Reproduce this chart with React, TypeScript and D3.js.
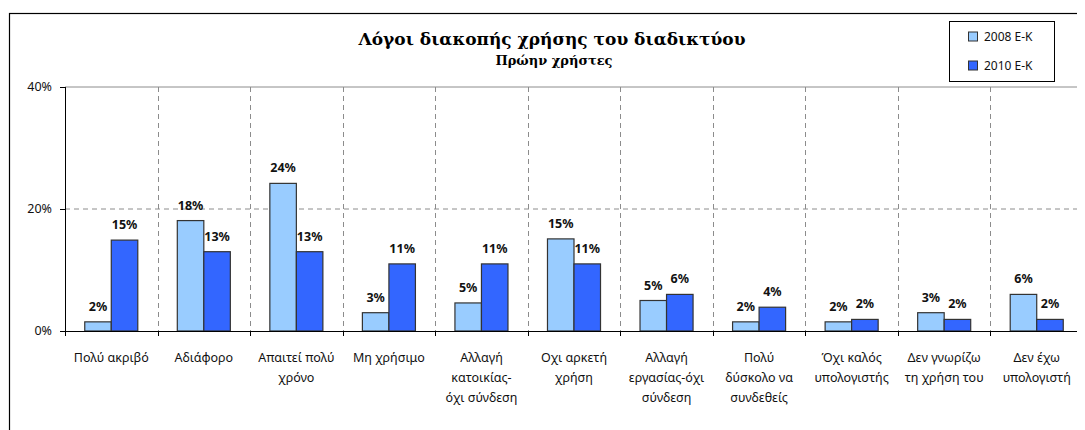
import { useEffect, useRef } from "react";
import * as d3 from "d3";

const categories = [
  "Πολύ ακριβό",
  "Αδιάφορο",
  "Απαιτεί πολύ\nχρόνο",
  "Μη χρήσιμο",
  "Αλλαγή\nκατοικίας-\nόχι σύνδεση",
  "Οχι αρκετή\nχρήση",
  "Αλλαγή\nεργασίας-όχι\nσύνδεση",
  "Πολύ\nδύσκολο να\nσυνδεθείς",
  "Όχι καλός\nυπολογιστής",
  "Δεν γνωρίζω\nτη χρήση του",
  "Δεν έχω\nυπολογιστή",
];

const seriesNames = ["2008 E-K", "2010 E-K"];
const values2008 = [1.5, 18.1, 24.2, 3.0, 4.6, 15.1, 5.0, 1.5, 1.5, 3.0, 6.0];
const values2010 = [14.9, 13.0, 13.0, 11.0, 11.0, 11.0, 6.0, 3.9, 1.9, 1.9, 1.9];
const yTicks = [0, 20, 40];

const seriesColors = ["#99ccff", "#3366ff"];

const width = 1077;
const height = 422;
const plot = { left: 57, right: 1075, top: 79, bottom: 323 };
const labelFont = "'Noto Sans', 'Open Sans', sans-serif";
const titleFont = "'DejaVu Serif', 'Liberation Serif', serif";

const App = () => {
  const svgRef = useRef<SVGSVGElement | null>(null);

  useEffect(() => {
    if (!svgRef.current) return;
    const svg = d3.select(svgRef.current);
    svg.selectAll("*").remove();

    const series = [values2008, values2010];

    const x = d3
      .scaleBand<number>()
      .domain(d3.range(categories.length))
      .range([plot.left, plot.right])
      .padding(0);
    const xInner = d3
      .scaleBand<number>()
      .domain([0, 1])
      .range([0, x.bandwidth()])
      .paddingInner(0)
      .paddingOuter(0.745);
    const y = d3.scaleLinear().domain([0, 40]).range([plot.bottom, plot.top]);

    // outer chart frame
    svg
      .append("rect")
      .attr("x", 1.5)
      .attr("y", 5.5)
      .attr("width", width + 20)
      .attr("height", height + 20)
      .attr("fill", "#fff")
      .attr("stroke", "#000")
      .attr("stroke-width", 1.2);

    // grid
    const grid = svg.append("g");
    grid
      .append("line")
      .attr("x1", plot.left)
      .attr("x2", plot.right)
      .attr("y1", y(40))
      .attr("y2", y(40))
      .attr("stroke", "#8c8c8c")
      .attr("stroke-width", 1);
    grid
      .append("line")
      .attr("x1", plot.left)
      .attr("x2", plot.right)
      .attr("y1", y(20))
      .attr("y2", y(20))
      .attr("stroke", "#8c8c8c")
      .attr("stroke-dasharray", "5,4");
    grid
      .selectAll("line.v")
      .data(d3.range(1, categories.length))
      .join("line")
      .attr("class", "v")
      .attr("x1", (i) => Math.round(x(i)!) + 0.5)
      .attr("x2", (i) => Math.round(x(i)!) + 0.5)
      .attr("y1", y(40))
      .attr("y2", y(0))
      .attr("stroke", "#8c8c8c")
      .attr("stroke-dasharray", "5,4");

    // bars
    const groups = svg
      .append("g")
      .selectAll("g")
      .data(categories)
      .join("g")
      .attr("transform", (_, i) => `translate(${x(i)},0)`);

    series.forEach((vals, s) => {
      groups
        .append("rect")
        .attr("x", xInner(s)!)
        .attr("width", xInner.bandwidth())
        .attr("y", (_, i) => y(vals[i]))
        .attr("height", (_, i) => y(0) - y(vals[i]))
        .attr("fill", seriesColors[s])
        .attr("stroke", "#333")
        .attr("stroke-width", 1.2);
      groups
        .append("text")
        .attr("x", xInner(s)! + xInner.bandwidth() / 2)
        .attr("y", (_, i) => y(vals[i]) - 11)
        .attr("text-anchor", "middle")
        .attr("font-family", labelFont)
        .attr("font-size", 12.5)
        .attr("font-weight", 700)
        .attr("fill", "#111")
        .text((_, i) => `${Math.round(vals[i])}%`);
    });

    // axes
    const axes = svg.append("g").attr("stroke", "#000").attr("stroke-width", 1);
    axes
      .append("line")
      .attr("x1", plot.left + 0.5)
      .attr("x2", plot.left + 0.5)
      .attr("y1", y(40))
      .attr("y2", y(0));
    axes
      .append("line")
      .attr("x1", plot.left)
      .attr("x2", plot.right)
      .attr("y1", y(0) + 0.5)
      .attr("y2", y(0) + 0.5);
    axes
      .selectAll("line.yt")
      .data(yTicks)
      .join("line")
      .attr("class", "yt")
      .attr("x1", plot.left - 5)
      .attr("x2", plot.left)
      .attr("y1", (d) => y(d) + 0.5)
      .attr("y2", (d) => y(d) + 0.5);
    axes
      .selectAll("line.xt")
      .data(d3.range(categories.length + 1))
      .join("line")
      .attr("class", "xt")
      .attr("x1", (i) => Math.round(i < categories.length ? x(i)! : plot.right) + 0.5)
      .attr("x2", (i) => Math.round(i < categories.length ? x(i)! : plot.right) + 0.5)
      .attr("y1", y(0))
      .attr("y2", y(0) + 5);

    svg
      .append("g")
      .selectAll("text")
      .data(yTicks)
      .join("text")
      .attr("x", plot.left - 13)
      .attr("y", (d) => y(d))
      .attr("dy", "0.35em")
      .attr("text-anchor", "end")
      .attr("font-family", labelFont)
      .attr("font-size", 12.5)
      .attr("fill", "#111")
      .text((d) => `${d}%`);

    // category labels
    svg
      .append("g")
      .selectAll("text")
      .data(categories)
      .join("text")
      .attr("text-anchor", "middle")
      .attr("font-family", labelFont)
      .attr("font-size", 12.5)
      .attr("fill", "#111")
      .each(function (d, i) {
        d3.select(this)
          .selectAll("tspan")
          .data(d.split("\n"))
          .join("tspan")
          .attr("x", x(i)! + x.bandwidth() / 2)
          .attr("y", (_, j) => 354 + j * 20)
          .text((line) => line);
      });

    // title
    svg
      .append("text")
      .attr("x", 544)
      .attr("y", 37)
      .attr("text-anchor", "middle")
      .attr("font-family", titleFont)
      .attr("font-size", 17)
      .attr("font-weight", 700)
      .text("Λόγοι διακοπής χρήσης του διαδικτύου");
    svg
      .append("text")
      .attr("x", 546)
      .attr("y", 57)
      .attr("text-anchor", "middle")
      .attr("font-family", titleFont)
      .attr("font-size", 13)
      .attr("font-weight", 700)
      .text("Πρώην χρήστες");

    // legend
    const legend = svg.append("g");
    legend
      .append("rect")
      .attr("x", 941.5)
      .attr("y", 13.5)
      .attr("width", 105)
      .attr("height", 60)
      .attr("fill", "#fff")
      .attr("stroke", "#000")
      .attr("stroke-width", 1);
    const items = legend
      .selectAll("g")
      .data(seriesNames)
      .join("g")
      .attr("transform", (_, i) => `translate(960,${28.5 + i * 29})`);
    items
      .append("rect")
      .attr("x", 0.5)
      .attr("y", -4.5)
      .attr("width", 9)
      .attr("height", 9)
      .attr("fill", (_, i) => seriesColors[i])
      .attr("stroke", "#333");
    items
      .append("text")
      .attr("x", 16)
      .attr("dy", "0.35em")
      .attr("font-family", labelFont)
      .attr("font-size", 12)
      .attr("fill", "#111")
      .text((d) => d);
  }, []);

  return (
    <div style={{ width, height, overflow: "hidden" }}>
      <svg ref={svgRef} width={width} height={height} style={{ display: "block" }} />
    </div>
  );
};

export default App;
